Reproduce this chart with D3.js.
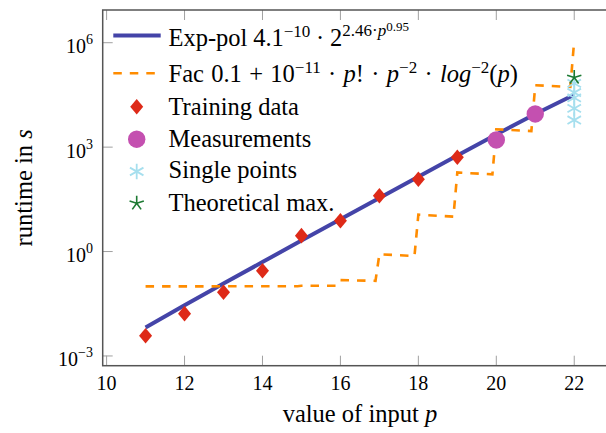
<!DOCTYPE html>
<html><head><meta charset="utf-8">
<script src="https://cdn.jsdelivr.net/npm/d3@7"></script>
<style>body{margin:0;background:#fff} svg{display:block}
svg text{font-family:"Liberation Serif","Times New Roman","DejaVu Serif",serif;}</style>
</head><body><svg id="c" width="606" height="433"></svg>
<script>
// ---- data ----
const fitP = [11,12,13,14,15,16,17,18,19,20,21,22];
const fitExpPol = [0.0066,0.0285,0.12,0.50,2.06,8.47,34.6,141,571,2300,9000,32000];

const facP = [11,14.9,15,15.9,16,16.9,17,17.9,18,18.9,19,19.9,20,20.9,21,21.9,22];
const facV = [0.1,0.1003,0.1038,0.1035,0.151,0.144,0.837,0.741,11.46,10.07,186.8,165,3256,2896,60060,53720,1.17e6];

const trainP = [11,12,13,14,15,16,17,18,19];
const trainV = [0.0038,0.0164,0.068,0.28,2.86,7.7,40,119,510];

const measP = [20,21];
const measV = [1610,8970];

const singleP = [22,22,22,22,22];
const singleV = [68000,37000,26000,13000,6000];

const maxP = [22];
const maxV = [100000];

const xTicks = [10,12,14,16,18,20,22];
const yTicks = [1e-3,1e0,1e3,1e6];
const yTickExp = ["−3","0","3","6"];

const legendLabels = ["Exp-pol","Fac","Training data","Measurements","Single points","Theoretical max."];

// ---- drawing ----
const svg = d3.select("#c");
const L = 102.7, T = 10, B = 365.7;
const x = d3.scaleLinear().domain([9.9,23.1]).range([L, L + 13.2*38.97]);
const y = d3.scaleLog().domain([Math.pow(10,-3.28), Math.pow(10,6.94)]).range([B, T]);
const R = x.range()[1];

const C = {blue:"#4444a8", orange:"#ff8c00", red:"#de2a18", mag:"#c450b0", lblue:"#a6dfee", green:"#1d7a33"};

// ticks (inside, mirrored)
const tk = svg.append("g").attr("stroke","#a0a0a0").attr("stroke-width",1);
xTicks.forEach(v => {
  tk.append("line").attr("x1",x(v)).attr("x2",x(v)).attr("y1",B).attr("y2",B-10);
  tk.append("line").attr("x1",x(v)).attr("x2",x(v)).attr("y1",T).attr("y2",T+10);
});
yTicks.forEach(v => {
  tk.append("line").attr("x1",L).attr("x2",L+10).attr("y1",y(v)).attr("y2",y(v));
  tk.append("line").attr("x1",R).attr("x2",R-10).attr("y1",y(v)).attr("y2",y(v));
});

function rich(g, px, py, segs, size, anchor, ws) {
  const t = g.append("text").attr("x",px).attr("y",py)
    .attr("font-size",size).attr("text-anchor",anchor||"start").attr("fill","#000")
    .style("white-space","pre");
  if (ws) t.attr("word-spacing", ws);
  let cur = 0;
  segs.forEach(s => {
    const off = s.off || 0;
    const ts = t.append("tspan").text(s.t).attr("dy", off-cur);
    cur = off;
    if (s.size) ts.attr("font-size", s.size);
    if (s.it) ts.attr("font-style","italic");
  });
  return t;
}

// tick labels
const lab = svg.append("g");
xTicks.forEach(v => {
  lab.append("text").attr("x",x(v)).attr("y",390).attr("text-anchor","middle")
    .attr("font-size",20).attr("fill","#000").text(v);
});
yTicks.forEach((v,i) => {
  rich(lab, 93, y(v)+10.5, [{t:"10"},{t:yTickExp[i],off:-9,size:14}], 20, "end");
});

// axis labels
rich(lab, (L+R)/2, 422, [{t:"value of input "},{t:"p",it:true}], 24.5, "middle");
rich(lab.append("g").attr("transform",`translate(31.5,${(T+B)/2}) rotate(-90)`), 0, 0,
  [{t:"runtime in "},{t:"s",it:true}], 24.5, "middle");

// plot
const plot = svg.append("g");
plot.append("path").datum(fitP.map((p,i)=>[p,fitExpPol[i]]))
  .attr("d", d3.line().x(d=>x(d[0])).y(d=>y(d[1])))
  .attr("fill","none").attr("stroke",C.blue).attr("stroke-width",4);
plot.append("path").datum(facP.map((p,i)=>[p,facV[i]]))
  .attr("d", d3.line().x(d=>x(d[0])).y(d=>y(d[1])))
  .attr("fill","none").attr("stroke",C.orange).attr("stroke-width",2.6)
  .attr("stroke-dasharray","8.5,8");

const diamond = (cx,cy) => `M${cx},${cy-7.8}L${cx+6.5},${cy}L${cx},${cy+7.8}L${cx-6.5},${cy}Z`;
const asterisk = (cx,cy,r) => [90,30,150].map(a=>{const t=a*Math.PI/180;return `M${cx-r*Math.cos(t)},${cy+r*Math.sin(t)}L${cx+r*Math.cos(t)},${cy-r*Math.sin(t)}`;}).join("");
const star = (cx,cy,r) => [90,162,234,306,18].map(a=>{const t=a*Math.PI/180;return `M${cx},${cy}L${cx+r*Math.cos(t)},${cy-r*Math.sin(t)}`;}).join("");

plot.selectAll(".tr").data(trainP.map((p,i)=>[p,trainV[i]])).enter().append("path")
  .attr("d", d=>diamond(x(d[0]),y(d[1]))).attr("fill",C.red);
plot.selectAll(".me").data(measP.map((p,i)=>[p,measV[i]])).enter().append("circle")
  .attr("cx",d=>x(d[0])).attr("cy",d=>y(d[1])).attr("r",8.7).attr("fill",C.mag);
plot.selectAll(".sp").data(singleP.map((p,i)=>[p,singleV[i]])).enter().append("path")
  .attr("d", d=>asterisk(x(d[0]),y(d[1]),7.8)).attr("stroke",C.lblue).attr("stroke-width",1.8).attr("fill","none");
plot.selectAll(".mx").data(maxP.map((p,i)=>[p,maxV[i]])).enter().append("path")
  .attr("d", d=>star(x(d[0]),y(d[1]),7.5)).attr("stroke",C.green).attr("stroke-width",1.6).attr("fill","none");

// frame
svg.append("rect").attr("x",L).attr("y",T).attr("width",R-L).attr("height",B-T)
  .attr("fill","none").attr("stroke","#555").attr("stroke-width",1.5);

// legend
const lg = svg.append("g");
const mx = 136.7, tx = 168.5;
const base = [45.5, 81.7, 115, 146.7, 178.3, 210.7];
lg.append("line").attr("x1",113.3).attr("x2",160.7).attr("y1",base[0]-10).attr("y2",base[0]-10)
  .attr("stroke",C.blue).attr("stroke-width",4);
lg.append("line").attr("x1",113.3).attr("x2",160.7).attr("y1",base[1]-8.5).attr("y2",base[1]-8.5)
  .attr("stroke",C.orange).attr("stroke-width",2.6).attr("stroke-dasharray","8.5,8");
lg.append("path").attr("d",diamond(mx,base[2]-8.3)).attr("fill",C.red);
lg.append("circle").attr("cx",mx).attr("cy",base[3]-7.5).attr("r",8.7).attr("fill",C.mag);
lg.append("path").attr("d",asterisk(mx,base[4]-6.8,7.8)).attr("stroke",C.lblue).attr("stroke-width",1.8);
lg.append("path").attr("d",star(mx,base[5]-7.4,7.5)).attr("stroke",C.green).attr("stroke-width",1.6).attr("fill","none");

rich(lg, tx, base[0], [{t:legendLabels[0]+" 4.1"},{t:"−10",off:-9,size:17},{t:" · 2"},
  {t:"2.46·",off:-10,size:17},{t:"p",off:-10,size:17,it:true},{t:"0.95",off:-15,size:13}], 24.5, "start", -0.4);
rich(lg, tx, base[1], [{t:legendLabels[1]+" 0.1 + 10"},{t:"−11",off:-9,size:17},{t:" · "},{t:"p",it:true},
  {t:"! · "},{t:"p",it:true},{t:"−2",off:-9,size:17},{t:" · "},{t:"log",it:true},{t:"−2",off:-9,size:17},
  {t:"("},{t:"p",it:true},{t:")"}], 24.5, "start", 1.2);
for (let i=2;i<6;i++) rich(lg, tx, base[i], [{t:legendLabels[i]}], 24.5);
</script></body></html>
